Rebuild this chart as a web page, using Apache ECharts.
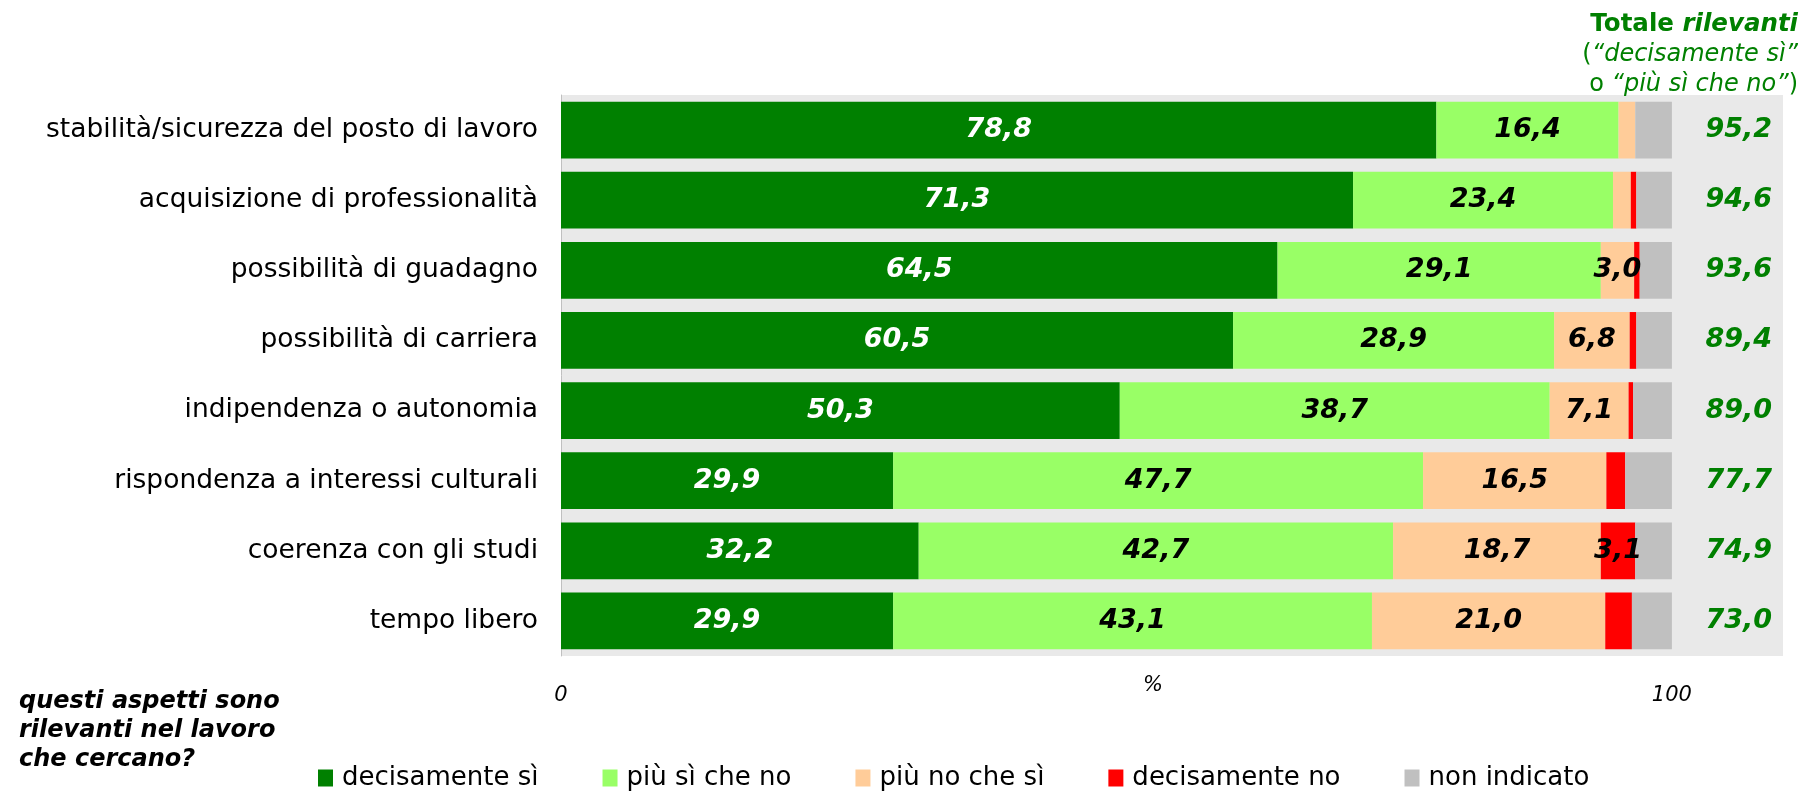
<!DOCTYPE html>
<html>
<head>
<meta charset="utf-8">
<script src="https://cdn.jsdelivr.net/npm/echarts@6/dist/echarts.min.js"></script>
<style>html,body{margin:0;padding:0;background:#fff}#c{width:1807px;height:791px}</style>
</head>
<body>
<div id="c"></div>
<script>
const categories = [
  'stabilità/sicurezza del posto di lavoro',
  'acquisizione di professionalità',
  'possibilità di guadagno',
  'possibilità di carriera',
  'indipendenza o autonomia',
  'rispondenza a interessi culturali',
  'coerenza con gli studi',
  'tempo libero'
];
const decisamenteSi = [78.8, 71.3, 64.5, 60.5, 50.3, 29.9, 32.2, 29.9];
const piuSiCheNo   = [16.4, 23.4, 29.1, 28.9, 38.7, 47.7, 42.7, 43.1];
const piuNoCheSi   = [1.5, 1.6, 3.0, 6.8, 7.1, 16.5, 18.7, 21.0];
const decisamenteNo = [0, 0.5, 0.5, 0.6, 0.4, 1.7, 3.1, 2.4];
const nonIndicato  = [3.3, 3.2, 2.9, 3.2, 3.5, 4.2, 3.3, 3.6];
const totali       = [95.2, 94.6, 93.6, 89.4, 89.0, 77.7, 74.9, 73.0];
const xTickLabels  = [0, 100];
const seriesNames  = ['decisamente sì', 'più sì che no', 'più no che sì', 'decisamente no', 'non indicato'];

const FONT = 'DejaVu Sans, Verdana, sans-serif';
const fmt = v => v.toFixed(1).replace('.', ',');

function barSeries(name, data, color, labelColor, showLabels) {
  return {
    name, type: 'bar', stack: 'tot', data,
    barCategoryGap: '19%',
    itemStyle: { color },
    label: {
      show: showLabels, position: 'inside', color: labelColor,
      fontFamily: FONT, fontSize: 27, fontWeight: 'bold', fontStyle: 'italic',
      formatter: p => (p.value >= 3 ? fmt(p.value) : '')
    },
    emphasis: { disabled: true }
  };
}

const T = { fontFamily: FONT, color: '#008000', lineHeight: 30, align: 'right' };
const chart = echarts.init(document.getElementById('c'), null, { renderer: 'canvas' });
chart.setOption({
  animation: false,
  textStyle: { fontFamily: FONT },
  title: [
    {
      right: 4, top: 5,
      text: '{b|Totale }{bi|rilevanti}\n{n|(}{i|“decisamente sì”}\n{n|o }{i|“più sì che no”}{n|)}',
      textStyle: {
        align: 'right',
        rich: {
          b: Object.assign({}, T, { fontSize: 24.5, fontWeight: 'bold', fontStyle: 'normal' }),
          bi: Object.assign({}, T, { fontSize: 24.5, fontWeight: 'bold', fontStyle: 'italic' }),
          n: Object.assign({}, T, { fontSize: 24, fontWeight: 'normal', fontStyle: 'normal' }),
          i: Object.assign({}, T, { fontSize: 24, fontWeight: 'normal', fontStyle: 'italic' })
        }
      }
    },
    {
      left: 14, top: 682,
      text: 'questi aspetti sono\nrilevanti nel lavoro\nche cercano?',
      textStyle: { fontFamily: FONT, fontSize: 24, fontWeight: 'bold', fontStyle: 'italic', color: '#000', lineHeight: 29 }
    },
    {
      left: 1138, top: 670,
      text: '%',
      textStyle: { fontFamily: FONT, fontSize: 21, fontWeight: 'normal', fontStyle: 'italic', color: '#000' }
    }
  ],
  legend: {
    left: 313, top: 760,
    itemWidth: 15, itemHeight: 17, itemGap: 64,
    icon: 'rect',
    data: seriesNames,
    textStyle: { fontFamily: FONT, fontSize: 26, color: '#000', padding: [0, 0, 0, 4] },
    selectedMode: false
  },
  grid: {
    left: 561, right: 24, top: 95, bottom: 135,
    show: true, backgroundColor: '#e9e9e9', borderWidth: 0,
    containLabel: false
  },
  xAxis: {
    type: 'value', min: 0, max: 110, interval: 100,
    axisLine: { show: false }, axisTick: { show: false }, splitLine: { show: false },
    axisLabel: {
      margin: 29, fontFamily: FONT, fontSize: 21, fontStyle: 'italic', color: '#000',
      formatter: v => (xTickLabels.includes(v) ? String(v) : '')
    }
  },
  yAxis: [
    {
      type: 'category', inverse: true, data: categories,
      axisLine: { show: true, lineStyle: { color: '#c0c0c0', width: 1 } },
      axisTick: { show: false },
      axisLabel: { margin: 23, fontFamily: FONT, fontSize: 26.5, color: '#000' }
    },
    {
      type: 'category', inverse: true, position: 'right', data: totali.map(fmt),
      axisLine: { show: false }, axisTick: { show: false },
      axisLabel: {
        margin: -11, align: 'right', fontFamily: FONT, fontSize: 27,
        fontWeight: 'bold', fontStyle: 'italic', color: '#008000'
      }
    }
  ],
  series: [
    barSeries(seriesNames[0], decisamenteSi, '#008000', '#fff', true),
    barSeries(seriesNames[1], piuSiCheNo, '#99ff66', '#000', true),
    barSeries(seriesNames[2], piuNoCheSi, '#ffcc99', '#000', true),
    barSeries(seriesNames[3], decisamenteNo, '#ff0000', '#000', true),
    barSeries(seriesNames[4], nonIndicato, '#c0c0c0', '#000', false)
  ]
});
</script>
</body>
</html>
